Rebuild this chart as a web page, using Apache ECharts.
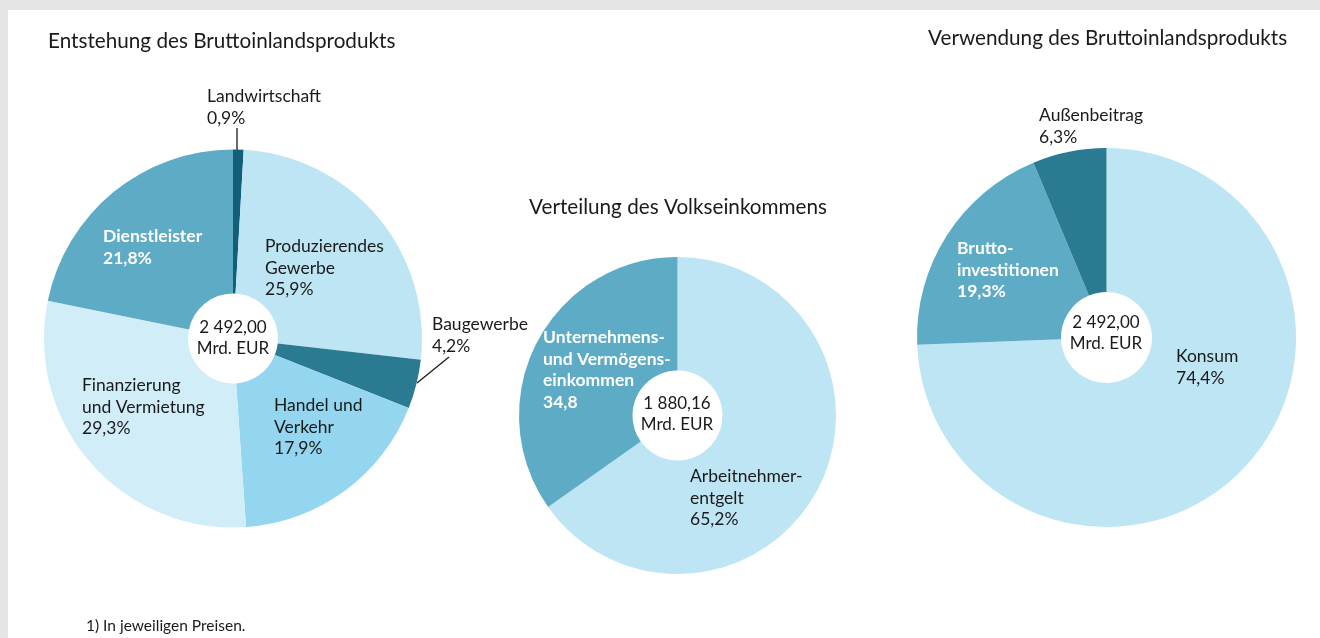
<!DOCTYPE html>
<html><head><meta charset="utf-8">
<script src="https://cdn.jsdelivr.net/npm/echarts@6/dist/echarts.min.js"></script>
<style>html,body{margin:0;padding:0;background:#e5e5e5}#c{width:1320px;height:638px}</style>
</head><body><div id="c"></div>
<script>
// ---- data ----
const titles = ['Entstehung des Bruttoinlandsprodukts', 'Verteilung des Volkseinkommens', 'Verwendung des Bruttoinlandsprodukts'];
const totals = ['2 492,00\nMrd. EUR', '1 880,16\nMrd. EUR', '2 492,00\nMrd. EUR'];
const entstehungNames = ['Landwirtschaft', 'Produzierendes\nGewerbe', 'Baugewerbe', 'Handel und\nVerkehr', 'Finanzierung\nund Vermietung', 'Dienstleister'];
const entstehungValues = [0.9, 25.9, 4.2, 17.9, 29.3, 21.8];
const verteilungNames = ['Arbeitnehmer-\nentgelt', 'Unternehmens-\nund Vermögens-\neinkommen'];
const verteilungValues = [65.2, 34.8];
const verteilungValueLabels = ['65,2%', '34,8'];
const verwendungNames = ['Konsum', 'Brutto-\ninvesti\u200Cti\u200Conen', 'Außenbeitrag'];
const verwendungValues = [74.4, 19.3, 6.3];
const footnote = '1) In jeweiligen Preisen.';

// ---- styles / layout ----
const FONT = 'Lato';
const C_DARK = '#135f78', C_LIGHT = '#bde5f4', C_TEAL = '#2a7a92', C_MID = '#94d6ef', C_PALE = '#d0edf8', C_BLUE = '#5eabc6';
const colors1 = [C_DARK, C_LIGHT, C_TEAL, C_MID, C_PALE, C_BLUE];
const white1 = [false, false, false, false, false, true];
const colors2 = [C_LIGHT, C_BLUE];
const white2 = [false, true];
const colors3 = [C_LIGHT, C_BLUE, C_TEAL];
const white3 = [false, true, false];
// label top-left positions (px)
const labelPos = [
  [[207, 86], [265, 236], [432, 314], [274, 395], [82, 375], [103, 226]],
  [[690, 466], [543, 327]],
  [[1176, 346], [957, 238], [1039, 105]]
];
const linePts = {
  '0-0': [[237, 150], [237, 128]],
  '0-2': [[417, 383], [449, 357]]
};
const fmt = v => v.toFixed(1).replace('.', ',') + '%';

function mkData(names, values, cols, whites, valueLabels, withLine) {
  return names.map((n, i) => ({
    name: n, value: values[i],
    itemStyle: { color: cols[i] },
    label: {
      show: true,
      position: withLine && withLine.includes(i) ? 'outside' : 'inside',
      formatter: n + '\n' + (valueLabels ? valueLabels[i] : fmt(values[i])),
      color: whites[i] ? '#ffffff' : '#1a1a1a',
      fontWeight: whites[i] ? 'bold' : 'normal'
    },
    labelLine: { show: !!(withLine && withLine.includes(i)), lineStyle: { color: '#1a1a1a', width: 1.3 } }
  }));
}

const commonSeries = {
  type: 'pie', clockwise: true, startAngle: 90, silent: true,
  avoidLabelOverlap: false,
  itemStyle: { borderWidth: 0 },
  label: { fontFamily: FONT, fontSize: 17.5, lineHeight: 21.5, align: 'left' },
  emphasis: { disabled: true },
  labelLayout: function (p) {
    const pos = labelPos[p.seriesIndex][p.dataIndex];
    const o = { x: pos[0], y: pos[1], align: 'left', verticalAlign: 'top' };
    const lp = linePts[p.seriesIndex + '-' + p.dataIndex];
    if (lp) o.labelLinePoints = lp;
    return o;
  }
};

const chart = echarts.init(document.getElementById('c'), null, { renderer: 'canvas' });
const txt = (x, y, text, size, align, vAlign) => ({
  type: 'text', x: x, y: y, z: 100,
  style: { text: text, fontFamily: FONT, fontSize: size, lineHeight: 21, fill: '#1a1a1a', textAlign: align || 'left', textVerticalAlign: vAlign || 'middle' }
});
chart.setOption({
  backgroundColor: '#e5e5e5',
  animation: false,
  graphic: [
    { type: 'rect', shape: { x: 8, y: 10, width: 1312, height: 628 }, style: { fill: '#ffffff' }, z: -10 },
    txt(48, 41, titles[0], 20.7),
    txt(529, 207, titles[1], 20.7),
    txt(928, 38, titles[2], 20.7),
    txt(233, 338.5, totals[0], 17, 'center'),
    txt(677, 414.5, totals[1], 17, 'center'),
    txt(1106, 333.5, totals[2], 17, 'center'),
    txt(86, 626, footnote, 15.5)
  ],
  series: [
    Object.assign({}, commonSeries, { center: [233, 338.5], radius: [45, 189], data: mkData(entstehungNames, entstehungValues, colors1, white1, null, [0, 2]) }),
    Object.assign({}, commonSeries, { center: [677.5, 415.5], radius: [45, 158.5], data: mkData(verteilungNames, verteilungValues, colors2, white2, verteilungValueLabels) }),
    Object.assign({}, commonSeries, { center: [1106.5, 337.5], radius: [45.5, 189.5], data: mkData(verwendungNames, verwendungValues, colors3, white3) })
  ]
});
</script></body></html>
